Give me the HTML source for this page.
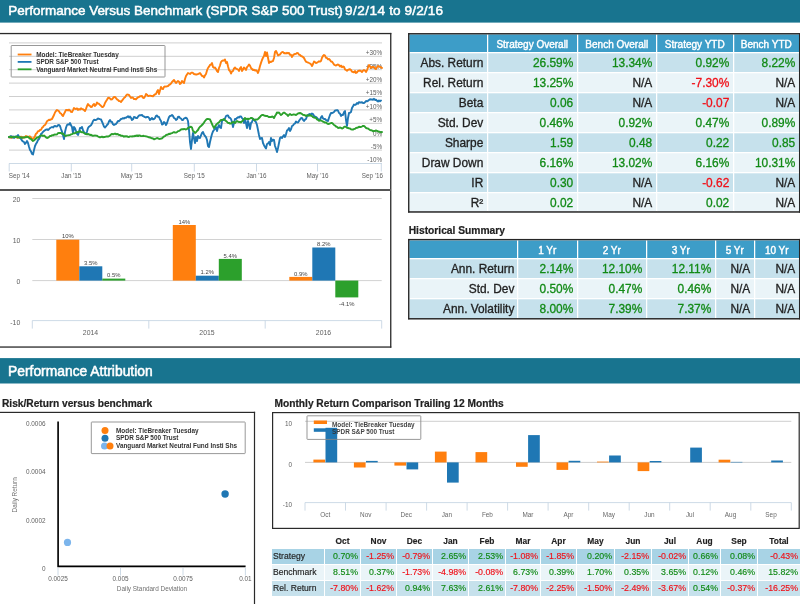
<!DOCTYPE html>
<html><head><meta charset="utf-8"><title>Performance Versus Benchmark</title>
<style>
html,body{margin:0;padding:0;background:#fff;}
body{width:800px;height:604px;overflow:hidden;position:relative;font-family:"Liberation Sans", sans-serif;color:#222;}
.bar{position:absolute;color:#fff;font-size:13.6px;white-space:nowrap;z-index:2;-webkit-text-stroke:0.5px #fff;}
.sub{z-index:2;position:absolute;font-weight:bold;font-size:10.2px;white-space:nowrap;color:#222;-webkit-text-stroke:0.2px;}
#page{position:absolute;left:0;top:0;width:800px;height:604px;overflow:hidden;will-change:transform;}
svg{position:absolute;left:0;top:0;}
svg text{font-family:"Liberation Sans", sans-serif;}
table{position:absolute;border-collapse:collapse;table-layout:fixed;}
td,th{padding:0;white-space:nowrap;overflow:hidden;box-sizing:border-box;}
.t1{font-size:11.9px;-webkit-text-stroke:0.3px;}
.t1 th{background:#3d9dc8;color:#fff;font-weight:normal;font-size:10px;-webkit-text-stroke:0.4px #fff;text-align:center;border:1px solid #fff;border-top:0;padding-top:3px;}
.t1 td{text-align:right;padding-right:3.5px;padding-top:2px;border:1px solid #fff;}
.t1 td:first-child,.t1 th:first-child{border-left:0;}
.t1 tr:last-child td{border-bottom:0;}
.t1 tr.a td{background:#c6e1ec;}
.t1 tr.b td{background:#eaf4f8;}
.g{color:#128a16;}
.r{color:#f01018;}
.frame{position:absolute;border:1px solid #555;box-sizing:border-box;overflow:hidden;}
#ov{z-index:5;pointer-events:none;}
.t3{font-size:8.8px;-webkit-text-stroke:0.15px;}
.t3 th{font-weight:bold;font-size:8.4px;text-align:center;color:#222;padding-top:1px;}
.t3 td{text-align:right;padding-right:2px;border:1px solid #fff;}
.t3 td.l{text-align:left;padding-left:1px;padding-right:0;font-size:8.6px;}
</style></head>
<body><div id="page">
<div class="bar" style="top:3.1px;left:8.3px;font-size:13.47px;">Performance Versus Benchmark (SPDR S&amp;P 500 Trust) <span style="position:absolute;left:336.6px;top:0;font-size:13.6px;letter-spacing:0.5px;">9/2/14</span><span style="position:absolute;left:381px;top:0;font-size:13.6px;">to</span><span style="position:absolute;left:396.2px;top:0;font-size:13.6px;letter-spacing:0.16px;">9/2/16</span></div>
<div class="bar" style="top:363.2px;left:8px;font-size:13.85px;">Performance Attribution</div>
<div class="sub" style="left:2px;top:397px;transform:translateY(0.6px);">Risk/Return versus benchmark</div>
<div class="sub" style="left:274.5px;top:397px;transform:translateY(0.6px);">Monthly Return Comparison Trailing 12 Months</div>
<div class="sub" style="left:408.7px;top:225px;font-size:10.25px;transform:translateY(0.4px);">Historical Summary</div>
<svg width="800" height="604" viewBox="0 0 800 604">
<rect x="0" y="0" width="800" height="22.6" fill="#18748f"/>
<rect x="0" y="358.1" width="800" height="25.4" fill="#18748f"/>
<g fill="#2a2a2a">
<rect x="0" y="32.9" width="391.3" height="1.3"/>
<rect x="390.1" y="32.9" width="1.3" height="314.8"/>
<rect x="0" y="346.4" width="391.3" height="1.3"/>
<rect x="0" y="189" width="391" height="2" fill="#555"/>
</g>
<g stroke="#cfcfcf" stroke-width="1">
<line x1="9" x2="382" y1="42.9" y2="42.9"/>
<line x1="9" x2="382" y1="56.3" y2="56.3"/>
<line x1="9" x2="382" y1="69.7" y2="69.7"/>
<line x1="9" x2="382" y1="83.1" y2="83.1"/>
<line x1="9" x2="382" y1="96.5" y2="96.5"/>
<line x1="9" x2="382" y1="109.9" y2="109.9"/>
<line x1="9" x2="382" y1="123.3" y2="123.3"/>
<line x1="9" x2="382" y1="136.7" y2="136.7"/>
<line x1="9" x2="382" y1="150.1" y2="150.1"/>
</g>
<g stroke="#c0d0e0" stroke-width="0.8" fill="none">
<line x1="9" x2="382" y1="163.5" y2="163.5"/>
<line x1="9.2" x2="9.2" y1="163.5" y2="171.5"/>
<line x1="71.3" x2="71.3" y1="163.5" y2="171.5"/>
<line x1="131.7" x2="131.7" y1="163.5" y2="171.5"/>
<line x1="194.3" x2="194.3" y1="163.5" y2="171.5"/>
<line x1="256.5" x2="256.5" y1="163.5" y2="171.5"/>
<line x1="317.5" x2="317.5" y1="163.5" y2="171.5"/>
<line x1="381.3" x2="381.3" y1="163.5" y2="171.5"/>
</g>
<g font-size="6.3" fill="#606060">
<text x="8.7" y="178">Sep '14</text>
<text x="71.3" y="178" text-anchor="middle">Jan '15</text>
<text x="131.7" y="178" text-anchor="middle">May '15</text>
<text x="194.3" y="178" text-anchor="middle">Sep '15</text>
<text x="256.5" y="178" text-anchor="middle">Jan '16</text>
<text x="317.5" y="178" text-anchor="middle">May '16</text>
<text x="383" y="178" text-anchor="end">Sep '16</text>
</g>
<g font-size="6.3" fill="#606060" text-anchor="end">
<text x="382" y="55.1">+30%</text>
<text x="382" y="68.5">+25%</text>
<text x="382" y="81.9">+20%</text>
<text x="382" y="95.3">+15%</text>
<text x="382" y="108.7">+10%</text>
<text x="382" y="122.1">+5%</text>
<text x="382" y="135.5">0%</text>
<text x="382" y="148.9">-5%</text>
<text x="382" y="162.3">-10%</text>
</g>
<path d="M9.0 137.5 L10.0 136.7 L11.0 137.9 L12.0 137.7 L13.0 136.7 L14.0 137.0 L15.0 137.1 L16.0 137.1 L17.0 137.5 L18.0 137.9 L19.0 136.7 L20.0 137.5 L21.0 136.6 L22.0 137.9 L23.0 137.1 L24.0 137.6 L25.0 137.0 L26.0 136.0 L27.0 136.7 L28.0 137.0 L29.0 136.5 L30.0 136.5 L31.0 137.5 L32.0 138.8 L33.0 138.5 L34.0 138.0 L35.0 136.0 L36.0 133.7 L37.0 133.0 L38.0 131.1 L39.0 131.1 L40.0 130.0 L41.0 129.8 L42.0 127.8 L43.0 127.0 L44.0 125.5 L45.0 125.0 L46.0 123.4 L47.0 121.2 L48.0 120.5 L49.0 119.7 L50.0 120.0 L51.0 119.4 L52.0 119.0 L53.0 117.0 L54.0 115.0 L55.0 112.5 L56.0 111.0 L57.0 110.0 L58.0 110.5 L59.0 111.3 L60.0 113.0 L61.0 113.5 L62.0 115.0 L63.0 116.0 L64.0 113.9 L65.0 112.0 L66.0 110.0 L67.0 109.9 L68.0 110.5 L69.0 109.6 L70.0 110.5 L71.0 111.9 L72.0 112.0 L73.0 110.1 L74.0 108.0 L75.0 108.8 L76.0 109.0 L77.0 108.4 L78.0 109.9 L79.0 109.0 L80.0 109.6 L81.0 108.3 L82.0 109.0 L83.0 109.2 L84.0 110.0 L85.0 111.0 L86.0 108.9 L87.0 106.0 L88.0 104.0 L89.0 105.4 L90.0 106.0 L91.0 107.0 L92.0 106.8 L93.0 104.9 L94.0 104.0 L95.0 106.0 L96.0 104.8 L97.0 102.5 L98.0 103.6 L99.0 103.8 L100.0 105.0 L101.0 105.8 L102.0 107.0 L103.0 107.0 L104.0 105.6 L105.0 103.0 L106.0 101.3 L107.0 99.8 L108.0 98.0 L109.0 97.7 L110.0 98.5 L111.0 99.5 L112.0 99.4 L113.0 98.1 L114.0 97.0 L115.0 97.0 L116.0 98.1 L117.0 99.4 L118.0 100.0 L119.0 101.0 L120.0 101.1 L121.0 102.0 L122.0 100.6 L123.0 99.3 L124.0 98.0 L125.0 97.3 L126.0 95.7 L127.0 94.5 L128.0 94.6 L129.0 95.0 L130.0 96.5 L131.0 98.0 L132.0 97.4 L133.0 97.7 L134.0 99.1 L135.0 99.0 L136.0 99.4 L137.0 98.2 L138.0 97.3 L139.0 97.0 L140.0 96.1 L141.0 96.3 L142.0 96.0 L143.0 97.9 L144.0 98.0 L145.0 96.5 L146.0 94.0 L147.0 94.7 L148.0 96.0 L149.0 96.0 L150.0 95.5 L151.0 96.0 L152.0 96.0 L153.0 96.3 L154.0 95.1 L155.0 94.4 L156.0 94.0 L157.0 91.6 L158.0 90.0 L159.0 94.0 L160.0 90.6 L161.0 87.0 L162.0 88.8 L163.0 89.0 L164.0 86.9 L165.0 86.5 L166.0 86.6 L167.0 86.3 L168.0 86.1 L169.0 85.0 L170.0 84.4 L171.0 83.6 L172.0 82.0 L173.0 81.0 L174.0 80.0 L175.0 81.6 L176.0 83.0 L177.0 81.9 L178.0 81.0 L179.0 81.7 L180.0 84.0 L181.0 83.2 L182.0 81.0 L183.0 82.1 L184.0 83.0 L185.0 79.0 L186.0 76.0 L187.0 74.5 L188.0 73.0 L189.0 73.5 L190.0 74.0 L191.0 73.0 L192.0 72.5 L193.0 73.0 L194.0 74.0 L195.0 74.3 L196.0 74.5 L197.0 74.5 L198.0 74.0 L199.0 73.7 L200.0 73.0 L201.0 74.4 L202.0 76.0 L203.0 75.9 L204.0 77.5 L205.0 75.3 L206.0 74.0 L207.0 70.4 L208.0 68.0 L209.0 66.7 L210.0 65.0 L211.0 64.6 L212.0 63.0 L213.0 67.0 L214.0 67.8 L215.0 67.5 L216.0 69.0 L217.0 71.0 L218.0 72.0 L219.0 68.0 L220.0 65.6 L221.0 62.0 L222.0 60.8 L223.0 60.5 L224.0 60.6 L225.0 59.5 L226.0 63.0 L227.0 62.0 L228.0 66.3 L229.0 70.0 L230.0 71.0 L231.0 73.5 L232.0 71.4 L233.0 71.0 L234.0 68.4 L235.0 67.5 L236.0 68.7 L237.0 69.0 L238.0 69.5 L239.0 71.0 L240.0 68.3 L241.0 67.0 L242.0 71.0 L243.0 69.5 L244.0 67.5 L245.0 68.5 L246.0 70.0 L247.0 67.2 L248.0 66.0 L249.0 64.5 L250.0 65.6 L251.0 68.0 L252.0 69.0 L253.0 70.0 L254.0 69.7 L255.0 70.5 L256.0 70.3 L257.0 71.0 L258.0 73.0 L259.0 69.9 L260.0 66.0 L261.0 62.9 L262.0 60.0 L263.0 57.7 L264.0 56.0 L265.0 52.0 L266.0 56.0 L267.0 52.5 L268.0 57.7 L269.0 63.0 L270.0 61.6 L271.0 62.0 L272.0 61.3 L273.0 61.0 L274.0 58.0 L275.0 52.0 L276.0 51.0 L277.0 53.0 L278.0 55.5 L279.0 54.9 L280.0 54.5 L281.0 53.1 L282.0 52.1 L283.0 52.0 L284.0 53.2 L285.0 53.0 L286.0 53.5 L287.0 52.8 L288.0 53.4 L289.0 53.0 L290.0 54.9 L291.0 54.8 L292.0 57.0 L293.0 55.1 L294.0 54.4 L295.0 54.0 L296.0 53.9 L297.0 53.0 L298.0 53.1 L299.0 54.7 L300.0 55.0 L301.0 56.0 L302.0 56.4 L303.0 57.0 L304.0 58.0 L305.0 60.0 L306.0 61.7 L307.0 62.2 L308.0 62.5 L309.0 63.0 L310.0 63.5 L311.0 64.3 L312.0 66.0 L313.0 64.0 L314.0 61.5 L315.0 62.1 L316.0 63.0 L317.0 62.6 L318.0 62.0 L319.0 61.3 L320.0 61.6 L321.0 61.0 L322.0 57.7 L323.0 56.0 L324.0 55.0 L325.0 55.6 L326.0 57.8 L327.0 58.0 L328.0 59.3 L329.0 59.0 L330.0 60.0 L331.0 61.6 L332.0 61.7 L333.0 63.0 L334.0 64.6 L335.0 65.1 L336.0 65.5 L337.0 64.8 L338.0 64.5 L339.0 65.1 L340.0 66.5 L341.0 65.6 L342.0 67.2 L343.0 66.5 L344.0 66.8 L345.0 69.4 L346.0 70.0 L347.0 70.7 L348.0 69.8 L349.0 69.5 L350.0 69.2 L351.0 70.0 L352.0 71.7 L353.0 72.0 L354.0 72.4 L355.0 71.0 L356.0 73.0 L357.0 72.4 L358.0 71.0 L359.0 70.8 L360.0 70.5 L361.0 71.0 L362.0 72.0 L363.0 70.7 L364.0 70.0 L365.0 70.5 L366.0 72.0 L367.0 70.1 L368.0 67.5 L369.0 65.0 L370.0 66.4 L371.0 68.0 L372.0 66.9 L373.0 67.0 L374.0 67.0 L375.0 68.6 L376.0 69.0 L377.0 67.1 L378.0 66.0 L379.0 66.5 L380.0 67.0 L381.0 67.2 L382.0 68.0" fill="none" stroke="#ff7f0e" stroke-width="1.9" stroke-linejoin="round" stroke-linecap="round"/>
<path d="M9.0 137.0 L10.0 137.4 L11.0 136.0 L12.0 137.6 L13.0 136.4 L14.0 138.0 L15.0 136.4 L16.0 137.2 L17.0 136.2 L18.0 135.0 L19.0 136.8 L20.0 138.0 L21.0 138.9 L22.0 140.5 L23.0 141.5 L24.0 142.0 L25.0 144.0 L26.0 142.7 L27.0 141.0 L28.0 143.0 L29.0 146.7 L30.0 150.0 L31.0 151.3 L32.0 154.0 L33.0 154.5 L34.0 150.1 L35.0 146.0 L36.0 143.8 L37.0 142.4 L38.0 140.0 L39.0 139.0 L40.0 136.9 L41.0 134.0 L42.0 133.1 L43.0 131.9 L44.0 131.0 L45.0 130.3 L46.0 129.6 L47.0 129.3 L48.0 130.0 L49.0 129.2 L50.0 128.1 L51.0 127.5 L52.0 127.0 L53.0 127.5 L54.0 126.4 L55.0 126.0 L56.0 126.4 L57.0 126.5 L58.0 125.2 L59.0 125.0 L60.0 126.0 L61.0 129.0 L62.0 131.7 L63.0 135.0 L64.0 139.0 L65.0 132.0 L66.0 127.8 L67.0 125.0 L68.0 124.4 L69.0 124.7 L70.0 123.0 L71.0 125.3 L72.0 127.0 L73.0 133.0 L74.0 127.0 L75.0 128.4 L76.0 131.0 L77.0 133.8 L78.0 135.0 L79.0 132.1 L80.0 128.0 L81.0 128.0 L82.0 127.0 L83.0 130.3 L84.0 132.0 L85.0 133.5 L86.0 134.0 L87.0 131.6 L88.0 128.0 L89.0 126.7 L90.0 126.0 L91.0 125.3 L92.0 123.6 L93.0 121.0 L94.0 119.8 L95.0 120.0 L96.0 120.0 L97.0 119.4 L98.0 118.5 L99.0 118.8 L100.0 119.2 L101.0 119.5 L102.0 121.7 L103.0 124.0 L104.0 126.6 L105.0 127.5 L106.0 126.3 L107.0 125.0 L108.0 124.0 L109.0 121.4 L110.0 120.0 L111.0 121.8 L112.0 122.0 L113.0 124.3 L114.0 125.0 L115.0 124.4 L116.0 124.0 L117.0 122.6 L118.0 121.0 L119.0 121.2 L120.0 120.1 L121.0 119.0 L122.0 118.8 L123.0 118.1 L124.0 118.5 L125.0 117.6 L126.0 117.9 L127.0 117.0 L128.0 116.2 L129.0 117.5 L130.0 116.5 L131.0 117.8 L132.0 120.0 L133.0 119.3 L134.0 117.0 L135.0 117.1 L136.0 118.0 L137.0 118.1 L138.0 116.7 L139.0 115.5 L140.0 115.3 L141.0 115.2 L142.0 115.0 L143.0 116.1 L144.0 116.5 L145.0 117.2 L146.0 117.5 L147.0 116.9 L148.0 117.0 L149.0 117.9 L150.0 120.0 L151.0 119.0 L152.0 118.0 L153.0 119.4 L154.0 119.0 L155.0 118.1 L156.0 115.8 L157.0 115.5 L158.0 116.9 L159.0 117.0 L160.0 119.5 L161.0 121.0 L162.0 124.5 L163.0 124.1 L164.0 122.0 L165.0 122.9 L166.0 125.0 L167.0 123.0 L168.0 120.0 L169.0 117.1 L170.0 116.0 L171.0 115.8 L172.0 115.0 L173.0 116.0 L174.0 118.0 L175.0 118.5 L176.0 120.0 L177.0 119.3 L178.0 117.0 L179.0 116.7 L180.0 118.0 L181.0 118.5 L182.0 120.0 L183.0 120.0 L184.0 118.5 L185.0 118.0 L186.0 117.7 L187.0 118.5 L188.0 121.0 L189.0 130.0 L190.0 142.0 L191.0 149.0 L192.0 140.0 L193.0 133.0 L194.0 138.0 L195.0 143.0 L196.0 137.0 L197.0 141.0 L198.0 136.0 L199.0 137.8 L200.0 138.0 L201.0 135.3 L202.0 133.0 L203.0 132.0 L204.0 134.4 L205.0 136.0 L206.0 137.1 L207.0 140.0 L208.0 146.0 L209.0 147.0 L210.0 142.0 L211.0 137.7 L212.0 134.0 L213.0 131.3 L214.0 130.0 L215.0 128.8 L216.0 127.0 L217.0 131.0 L218.0 127.2 L219.0 125.0 L220.0 127.4 L221.0 128.0 L222.0 121.0 L223.0 119.6 L224.0 120.0 L225.0 118.5 L226.0 116.0 L227.0 115.5 L228.0 115.5 L229.0 117.5 L230.0 117.8 L231.0 119.0 L232.0 122.0 L233.0 127.0 L234.0 123.0 L235.0 119.0 L236.0 119.1 L237.0 118.0 L238.0 117.1 L239.0 117.5 L240.0 116.4 L241.0 116.5 L242.0 118.1 L243.0 119.0 L244.0 123.0 L245.0 119.0 L246.0 123.3 L247.0 128.0 L248.0 121.0 L249.0 124.1 L250.0 129.0 L251.0 123.0 L252.0 122.0 L253.0 119.0 L254.0 119.3 L255.0 121.0 L256.0 122.1 L257.0 125.0 L258.0 130.0 L259.0 135.0 L260.0 139.0 L261.0 138.2 L262.0 138.0 L263.0 143.0 L264.0 145.2 L265.0 147.0 L266.0 148.5 L267.0 144.0 L268.0 143.5 L269.0 142.0 L270.0 145.0 L271.0 138.0 L272.0 141.0 L273.0 139.7 L274.0 140.0 L275.0 146.0 L276.0 148.7 L277.0 152.0 L278.0 148.0 L279.0 143.0 L280.0 138.0 L281.0 137.1 L282.0 138.0 L283.0 136.4 L284.0 135.0 L285.0 137.0 L286.0 134.3 L287.0 130.5 L288.0 129.7 L289.0 128.0 L290.0 131.0 L291.0 129.3 L292.0 126.0 L293.0 125.5 L294.0 124.0 L295.0 123.5 L296.0 121.5 L297.0 122.4 L298.0 122.5 L299.0 120.9 L300.0 119.5 L301.0 118.2 L302.0 118.0 L303.0 119.8 L304.0 121.0 L305.0 119.6 L306.0 119.0 L307.0 116.2 L308.0 115.0 L309.0 114.4 L310.0 114.0 L311.0 114.5 L312.0 113.5 L313.0 114.0 L314.0 116.0 L315.0 116.7 L316.0 117.0 L317.0 117.8 L318.0 119.0 L319.0 119.5 L320.0 120.0 L321.0 117.3 L322.0 116.0 L323.0 118.4 L324.0 119.0 L325.0 119.0 L326.0 120.0 L327.0 120.7 L328.0 121.0 L329.0 117.8 L330.0 115.0 L331.0 113.0 L332.0 113.0 L333.0 112.6 L334.0 112.0 L335.0 110.5 L336.0 110.5 L337.0 110.0 L338.0 110.6 L339.0 113.0 L340.0 113.6 L341.0 116.0 L342.0 114.8 L343.0 115.0 L344.0 112.2 L345.0 111.0 L346.0 120.0 L347.0 126.0 L348.0 118.0 L349.0 113.0 L350.0 112.8 L351.0 112.0 L352.0 108.0 L353.0 106.3 L354.0 104.5 L355.0 105.0 L356.0 104.4 L357.0 103.0 L358.0 103.8 L359.0 102.1 L360.0 102.5 L361.0 102.5 L362.0 102.3 L363.0 103.1 L364.0 103.0 L365.0 102.2 L366.0 101.0 L367.0 101.3 L368.0 100.8 L369.0 100.0 L370.0 99.3 L371.0 99.5 L372.0 99.5 L373.0 99.7 L374.0 98.8 L375.0 100.0 L376.0 99.6 L377.0 100.8 L378.0 101.5 L379.0 100.4 L380.0 101.3 L381.0 100.5" fill="none" stroke="#1f77b4" stroke-width="1.9" stroke-linejoin="round" stroke-linecap="round"/>
<path d="M9.0 137.0 L10.0 136.7 L11.0 137.0 L12.0 136.9 L13.0 137.1 L14.0 137.1 L15.0 137.0 L16.0 136.7 L17.0 136.7 L18.0 137.6 L19.0 137.2 L20.0 137.5 L21.0 137.2 L22.0 137.9 L23.0 137.3 L24.0 137.6 L25.0 137.2 L26.0 137.3 L27.0 136.7 L28.0 137.0 L29.0 137.8 L30.0 138.7 L31.0 139.0 L32.0 140.0 L33.0 141.0 L34.0 140.4 L35.0 139.5 L36.0 138.5 L37.0 137.4 L38.0 137.5 L39.0 136.7 L40.0 136.0 L41.0 135.7 L42.0 135.3 L43.0 136.0 L44.0 135.5 L45.0 136.3 L46.0 137.4 L47.0 138.0 L48.0 137.7 L49.0 136.9 L50.0 136.0 L51.0 136.1 L52.0 135.3 L53.0 135.4 L54.0 134.7 L55.0 134.5 L56.0 134.6 L57.0 134.3 L58.0 133.2 L59.0 132.9 L60.0 133.0 L61.0 132.9 L62.0 133.8 L63.0 133.5 L64.0 134.7 L65.0 136.0 L66.0 135.9 L67.0 135.4 L68.0 135.4 L69.0 135.1 L70.0 135.0 L71.0 134.4 L72.0 134.1 L73.0 133.5 L74.0 133.2 L75.0 133.2 L76.0 132.6 L77.0 132.0 L78.0 132.1 L79.0 131.7 L80.0 131.0 L81.0 132.0 L82.0 132.2 L83.0 132.2 L84.0 133.0 L85.0 133.6 L86.0 134.0 L87.0 134.2 L88.0 134.0 L89.0 134.4 L90.0 135.0 L91.0 134.8 L92.0 135.5 L93.0 135.8 L94.0 135.6 L95.0 135.5 L96.0 135.6 L97.0 135.7 L98.0 136.5 L99.0 137.0 L100.0 137.3 L101.0 137.0 L102.0 136.6 L103.0 137.3 L104.0 136.9 L105.0 137.0 L106.0 136.5 L107.0 136.5 L108.0 136.5 L109.0 136.1 L110.0 135.5 L111.0 134.5 L112.0 133.9 L113.0 134.3 L114.0 134.0 L115.0 133.5 L116.0 134.2 L117.0 134.0 L118.0 134.2 L119.0 135.0 L120.0 135.0 L121.0 135.8 L122.0 135.7 L123.0 136.0 L124.0 136.7 L125.0 136.1 L126.0 136.5 L127.0 136.2 L128.0 136.9 L129.0 137.0 L130.0 136.4 L131.0 136.4 L132.0 136.5 L133.0 136.3 L134.0 136.4 L135.0 135.8 L136.0 136.0 L137.0 135.4 L138.0 136.1 L139.0 135.4 L140.0 135.5 L141.0 136.1 L142.0 136.1 L143.0 135.8 L144.0 136.0 L145.0 136.1 L146.0 136.4 L147.0 136.5 L148.0 137.0 L149.0 137.3 L150.0 137.5 L151.0 137.9 L152.0 138.3 L153.0 138.5 L154.0 139.2 L155.0 139.0 L156.0 138.5 L157.0 138.0 L158.0 138.3 L159.0 138.9 L160.0 139.0 L161.0 138.5 L162.0 138.5 L163.0 137.3 L164.0 136.5 L165.0 136.2 L166.0 135.0 L167.0 134.8 L168.0 134.5 L169.0 133.8 L170.0 134.0 L171.0 133.4 L172.0 133.1 L173.0 132.5 L174.0 132.0 L175.0 132.6 L176.0 132.5 L177.0 132.1 L178.0 131.1 L179.0 131.0 L180.0 130.4 L181.0 129.5 L182.0 129.3 L183.0 129.3 L184.0 129.0 L185.0 129.1 L186.0 129.5 L187.0 129.0 L188.0 128.0 L189.0 127.7 L190.0 127.0 L191.0 126.8 L192.0 127.5 L193.0 131.0 L194.0 131.6 L195.0 133.0 L196.0 132.2 L197.0 131.0 L198.0 130.0 L199.0 128.0 L200.0 126.8 L201.0 126.0 L202.0 125.0 L203.0 124.0 L204.0 122.6 L205.0 121.0 L206.0 119.8 L207.0 119.0 L208.0 119.0 L209.0 119.1 L210.0 119.5 L211.0 121.6 L212.0 124.0 L213.0 126.1 L214.0 128.0 L215.0 126.3 L216.0 125.0 L217.0 123.9 L218.0 123.0 L219.0 122.3 L220.0 121.0 L221.0 120.0 L222.0 120.0 L223.0 119.6 L224.0 119.0 L225.0 120.2 L226.0 121.0 L227.0 121.8 L228.0 123.0 L229.0 122.9 L230.0 123.6 L231.0 123.5 L232.0 122.5 L233.0 122.0 L234.0 122.2 L235.0 123.0 L236.0 121.9 L237.0 121.0 L238.0 121.7 L239.0 122.0 L240.0 121.9 L241.0 122.5 L242.0 121.3 L243.0 120.5 L244.0 119.1 L245.0 118.0 L246.0 118.8 L247.0 119.0 L248.0 118.8 L249.0 119.0 L250.0 118.5 L251.0 117.9 L252.0 118.0 L253.0 118.8 L254.0 120.0 L255.0 119.9 L256.0 119.5 L257.0 119.6 L258.0 119.0 L259.0 118.0 L260.0 117.0 L261.0 115.7 L262.0 115.0 L263.0 114.9 L264.0 115.5 L265.0 115.8 L266.0 116.0 L267.0 115.9 L268.0 116.5 L269.0 117.1 L270.0 117.0 L271.0 117.1 L272.0 116.5 L273.0 116.9 L274.0 118.0 L275.0 116.0 L276.0 114.5 L277.0 112.5 L278.0 112.8 L279.0 112.5 L280.0 113.9 L281.0 115.0 L282.0 114.3 L283.0 113.0 L284.0 112.5 L285.0 113.1 L286.0 114.0 L287.0 114.6 L288.0 116.0 L289.0 114.8 L290.0 114.0 L291.0 114.8 L292.0 115.0 L293.0 114.5 L294.0 114.5 L295.0 114.6 L296.0 115.0 L297.0 114.2 L298.0 113.5 L299.0 113.2 L300.0 113.0 L301.0 113.4 L302.0 114.0 L303.0 114.9 L304.0 115.0 L305.0 115.2 L306.0 116.0 L307.0 115.3 L308.0 115.5 L309.0 115.7 L310.0 115.0 L311.0 115.9 L312.0 116.0 L313.0 117.2 L314.0 117.5 L315.0 117.7 L316.0 118.0 L317.0 119.5 L318.0 120.0 L319.0 120.7 L320.0 120.5 L321.0 120.5 L322.0 121.0 L323.0 121.7 L324.0 122.0 L325.0 122.6 L326.0 122.5 L327.0 123.4 L328.0 124.0 L329.0 123.8 L330.0 123.5 L331.0 123.0 L332.0 123.0 L333.0 123.8 L334.0 125.0 L335.0 125.5 L336.0 126.5 L337.0 126.8 L338.0 128.0 L339.0 127.8 L340.0 127.5 L341.0 127.8 L342.0 128.5 L343.0 128.1 L344.0 127.0 L345.0 126.5 L346.0 127.0 L347.0 127.9 L348.0 128.0 L349.0 128.4 L350.0 128.5 L351.0 129.4 L352.0 129.5 L353.0 129.6 L354.0 129.0 L355.0 128.9 L356.0 128.0 L357.0 127.8 L358.0 127.5 L359.0 126.8 L360.0 127.0 L361.0 127.0 L362.0 126.5 L363.0 125.9 L364.0 126.0 L365.0 126.8 L366.0 128.0 L367.0 128.4 L368.0 128.5 L369.0 129.3 L370.0 130.0 L371.0 130.2 L372.0 130.5 L373.0 131.2 L374.0 131.0 L375.0 130.9 L376.0 130.5 L377.0 130.8 L378.0 131.5 L379.0 131.5 L380.0 132.0 L381.0 132.4 L382.0 132.0" fill="none" stroke="#2ca02c" stroke-width="1.9" stroke-linejoin="round" stroke-linecap="round"/>
<rect x="11.2" y="45.5" width="153.8" height="31.5" rx="0.6" fill="none" stroke="#858585" stroke-width="0.85"/>
<line x1="17.7" x2="31.5" y1="54.5" y2="54.5" stroke="#ff7f0e" stroke-width="1.8"/>
<text x="36.2" y="56.8" font-size="6.4" font-weight="bold" fill="#333">Model: TieBreaker Tuesday</text>
<line x1="17.7" x2="31.5" y1="61.9" y2="61.9" stroke="#1f77b4" stroke-width="1.8"/>
<text x="36.2" y="64.2" font-size="6.4" font-weight="bold" fill="#333">SPDR S&amp;P 500 Trust</text>
<line x1="17.7" x2="31.5" y1="69.3" y2="69.3" stroke="#2ca02c" stroke-width="1.8"/>
<text x="36.2" y="71.6" font-size="6.4" font-weight="bold" fill="#333">Vanguard Market Neutral Fund Insti Shs</text>
<g stroke="#b4b4b4" stroke-width="0.6">
<line x1="32.3" x2="381.7" y1="198.5" y2="198.5"/>
<line x1="32.3" x2="381.7" y1="239.5" y2="239.5"/>
<line x1="32.3" x2="381.7" y1="280.6" y2="280.6"/>
</g>
<g stroke="#c0d0e0" stroke-width="0.8">
<line x1="32.3" x2="381.7" y1="320.6" y2="320.6"/>
<line x1="32.3" x2="32.3" y1="320.6" y2="328.6"/>
<line x1="148.8" x2="148.8" y1="320.6" y2="328.6"/>
<line x1="265.2" x2="265.2" y1="320.6" y2="328.6"/>
<line x1="381.7" x2="381.7" y1="320.6" y2="328.6"/>
</g>
<g font-size="6.9" fill="#606060" text-anchor="end">
<text x="20.3" y="202.2">20</text>
<text x="20.3" y="243.2">10</text>
<text x="20.3" y="284.3">0</text>
<text x="20.3" y="325.0">-10</text>
</g>
<text x="90.5" y="335" font-size="6.9" fill="#606060" text-anchor="middle">2014</text>
<rect x="56.3" y="239.7" width="23.0" height="40.9" fill="#ff7f0e"/>
<text x="67.8" y="238.3" font-size="5.9" fill="#444" text-anchor="middle">10%</text>
<rect x="79.3" y="266.3" width="23.0" height="14.3" fill="#1f77b4"/>
<text x="90.8" y="264.9" font-size="5.9" fill="#444" text-anchor="middle">3.5%</text>
<rect x="102.3" y="278.6" width="23.0" height="2.0" fill="#2ca02c"/>
<text x="113.8" y="277.2" font-size="5.9" fill="#444" text-anchor="middle">0.5%</text>
<text x="207.0" y="335" font-size="6.9" fill="#606060" text-anchor="middle">2015</text>
<rect x="172.8" y="225.0" width="23.0" height="55.6" fill="#ff7f0e"/>
<text x="184.3" y="223.6" font-size="5.9" fill="#444" text-anchor="middle">14%</text>
<rect x="195.8" y="275.7" width="23.0" height="4.9" fill="#1f77b4"/>
<text x="207.3" y="274.3" font-size="5.9" fill="#444" text-anchor="middle">1.2%</text>
<rect x="218.8" y="258.9" width="23.0" height="21.7" fill="#2ca02c"/>
<text x="230.3" y="257.5" font-size="5.9" fill="#444" text-anchor="middle">5.4%</text>
<text x="323.5" y="335" font-size="6.9" fill="#606060" text-anchor="middle">2016</text>
<rect x="289.3" y="276.9" width="23.0" height="3.7" fill="#ff7f0e"/>
<text x="300.8" y="275.5" font-size="5.9" fill="#444" text-anchor="middle">0.9%</text>
<rect x="312.3" y="247.5" width="23.0" height="33.1" fill="#1f77b4"/>
<text x="323.8" y="246.1" font-size="5.9" fill="#444" text-anchor="middle">8.2%</text>
<rect x="335.3" y="280.6" width="23.0" height="16.8" fill="#2ca02c"/>
<text x="346.8" y="306.4" font-size="5.9" fill="#444" text-anchor="middle">-4.1%</text>
<g fill="#2a2a2a">
<rect x="0" y="411.8" width="255.1" height="1.2"/>
<rect x="253.9" y="411.8" width="1.2" height="200"/>
</g>
<path d="M58.1 421.5 V566.4 H245.6" fill="none" stroke="#000" stroke-width="1.65"/>
<g stroke="#c0d0e0" stroke-width="0.8">
<line x1="58" x2="58" y1="568" y2="575.5"/>
<line x1="120.5" x2="120.5" y1="568" y2="575.5"/>
<line x1="183" x2="183" y1="568" y2="575.5"/>
<line x1="245.4" x2="245.4" y1="568" y2="575.5"/>
</g>
<g font-size="6.4" fill="#606060" text-anchor="middle">
<text x="58" y="581.4">0.0025</text>
<text x="120.5" y="581.4">0.005</text>
<text x="183" y="581.4">0.0075</text>
<text x="245.4" y="581.4">0.01</text>
<text x="152" y="591.2" fill="#707070">Daily Standard Deviation</text>
<text transform="translate(16.6 494.8) rotate(-90)" fill="#707070">Daily Return</text>
</g>
<g font-size="6.4" fill="#606060" text-anchor="end">
<text x="45.5" y="425.8">0.0006</text>
<text x="45.5" y="474.1">0.0004</text>
<text x="45.5" y="522.6999999999999">0.0002</text>
<text x="45.5" y="570.9">0</text>
</g>
<circle cx="225.1" cy="494" r="3.7" fill="#1f77b4"/>
<circle cx="67.5" cy="542.4" r="3.6" fill="#7cb5ec"/>
<rect x="91.3" y="422" width="153.9" height="31.6" rx="0.6" fill="#fff" stroke="#858585" stroke-width="0.85"/>
<circle cx="105" cy="430.4" r="3.5" fill="#ff7f0e"/>
<text x="116" y="432.7" font-size="6.4" font-weight="bold" fill="#333">Model: TieBreaker Tuesday</text>
<circle cx="105" cy="438.15" r="3.5" fill="#1f77b4"/>
<text x="116" y="440.45" font-size="6.4" font-weight="bold" fill="#333">SPDR S&amp;P 500 Trust</text>
<circle cx="104.5" cy="445.9" r="3.5" fill="#7cb5ec"/>
<circle cx="110" cy="445.9" r="3.5" fill="#ff7f0e"/>
<text x="116" y="448.2" font-size="6.4" font-weight="bold" fill="#333">Vanguard Market Neutral Fund Insti Shs</text>
<rect x="272.6" y="412.6" width="526.6" height="115.8" fill="none" stroke="#2a2a2a" stroke-width="1.2"/>
<g stroke="#c2c2c2" stroke-width="0.8">
<line x1="305" x2="791.3" y1="421.3" y2="421.3"/>
<line x1="305" x2="791.3" y1="462.4" y2="462.4"/>
</g>
<g stroke="#c0d0e0" stroke-width="0.8">
<line x1="305" x2="791.3" y1="502.6" y2="502.6"/>
<line x1="305.0" x2="305.0" y1="502.6" y2="510.6"/>
<line x1="345.5" x2="345.5" y1="502.6" y2="510.6"/>
<line x1="386.1" x2="386.1" y1="502.6" y2="510.6"/>
<line x1="426.6" x2="426.6" y1="502.6" y2="510.6"/>
<line x1="467.1" x2="467.1" y1="502.6" y2="510.6"/>
<line x1="507.6" x2="507.6" y1="502.6" y2="510.6"/>
<line x1="548.1" x2="548.1" y1="502.6" y2="510.6"/>
<line x1="588.7" x2="588.7" y1="502.6" y2="510.6"/>
<line x1="629.2" x2="629.2" y1="502.6" y2="510.6"/>
<line x1="669.7" x2="669.7" y1="502.6" y2="510.6"/>
<line x1="710.2" x2="710.2" y1="502.6" y2="510.6"/>
<line x1="750.8" x2="750.8" y1="502.6" y2="510.6"/>
<line x1="791.3" x2="791.3" y1="502.6" y2="510.6"/>
</g>
<g font-size="6.4" fill="#606060" text-anchor="end">
<text x="292" y="425.9">10</text>
<text x="292" y="466.7">0</text>
<text x="292" y="506.6">-10</text>
</g>
<text x="325.3" y="516.5" font-size="6.4" fill="#686868" text-anchor="middle">Oct</text>
<rect x="313.4" y="459.6" width="11.7" height="2.8" fill="#ff7f0e"/>
<rect x="325.5" y="427.8" width="11.7" height="34.6" fill="#1f77b4"/>
<text x="365.8" y="516.5" font-size="6.4" fill="#686868" text-anchor="middle">Nov</text>
<rect x="353.9" y="462.4" width="11.7" height="5.1" fill="#ff7f0e"/>
<rect x="366.0" y="460.9" width="11.7" height="1.5" fill="#1f77b4"/>
<text x="406.3" y="516.5" font-size="6.4" fill="#686868" text-anchor="middle">Dec</text>
<rect x="394.4" y="462.4" width="11.7" height="3.2" fill="#ff7f0e"/>
<rect x="406.5" y="462.4" width="11.7" height="7.0" fill="#1f77b4"/>
<text x="446.8" y="516.5" font-size="6.4" fill="#686868" text-anchor="middle">Jan</text>
<rect x="434.9" y="451.6" width="11.7" height="10.8" fill="#ff7f0e"/>
<rect x="447.0" y="462.4" width="11.7" height="20.2" fill="#1f77b4"/>
<text x="487.4" y="516.5" font-size="6.4" fill="#686868" text-anchor="middle">Feb</text>
<rect x="475.5" y="452.1" width="11.7" height="10.3" fill="#ff7f0e"/>
<text x="527.9" y="516.5" font-size="6.4" fill="#686868" text-anchor="middle">Mar</text>
<rect x="516.0" y="462.4" width="11.7" height="4.4" fill="#ff7f0e"/>
<rect x="528.1" y="435.1" width="11.7" height="27.3" fill="#1f77b4"/>
<text x="568.4" y="516.5" font-size="6.4" fill="#686868" text-anchor="middle">Apr</text>
<rect x="556.5" y="462.4" width="11.7" height="7.5" fill="#ff7f0e"/>
<rect x="568.6" y="460.8" width="11.7" height="1.6" fill="#1f77b4"/>
<text x="608.9" y="516.5" font-size="6.4" fill="#686868" text-anchor="middle">May</text>
<rect x="597.0" y="461.6" width="11.7" height="0.8" fill="#ff7f0e"/>
<rect x="609.1" y="455.5" width="11.7" height="6.9" fill="#1f77b4"/>
<text x="649.5" y="516.5" font-size="6.4" fill="#686868" text-anchor="middle">Jun</text>
<rect x="637.6" y="462.4" width="11.7" height="8.7" fill="#ff7f0e"/>
<rect x="649.7" y="461.0" width="11.7" height="1.4" fill="#1f77b4"/>
<text x="690.0" y="516.5" font-size="6.4" fill="#686868" text-anchor="middle">Jul</text>
<rect x="690.2" y="447.6" width="11.7" height="14.8" fill="#1f77b4"/>
<text x="730.5" y="516.5" font-size="6.4" fill="#686868" text-anchor="middle">Aug</text>
<rect x="718.6" y="459.7" width="11.7" height="2.7" fill="#ff7f0e"/>
<rect x="730.7" y="461.9" width="11.7" height="0.5" fill="#1f77b4"/>
<text x="771.0" y="516.5" font-size="6.4" fill="#686868" text-anchor="middle">Sep</text>
<rect x="771.2" y="460.5" width="11.7" height="1.9" fill="#1f77b4"/>
<rect x="307" y="415.8" width="113.8" height="23.6" rx="0.6" fill="none" stroke="#858585" stroke-width="0.85"/>
<rect x="313.8" y="420.5" width="13.2" height="3.5" fill="#ff7f0e"/>
<text x="332" y="426.5" font-size="6.4" font-weight="bold" fill="#333" opacity="0.92">Model: TieBreaker Tuesday</text>
<rect x="313.8" y="428.3" width="13.2" height="3.5" fill="#1f77b4"/>
<text x="332" y="434.3" font-size="6.4" font-weight="bold" fill="#333" opacity="0.92">SPDR S&amp;P 500 Trust</text>
</svg>
<div class="frame" style="left:408px;top:33px;width:392px;height:179px;transform:translate(0.25px,0.3px);">
<table class="t1" style="left:0;top:0;width:390px;">
<colgroup><col style="width:78px"><col style="width:90px"><col style="width:79px"><col style="width:77px"><col style="width:66px"></colgroup>
<tr style="height:18px"><th></th><th>Strategy Overall</th><th>Bench Overall</th><th>Strategy YTD</th><th>Bench YTD</th></tr>
<tr class="a" style="height:20px"><td>Abs. Return</td><td class="g">26.59%</td><td class="g">13.34%</td><td class="g">0.92%</td><td class="g">8.22%</td></tr>
<tr class="b" style="height:20px"><td>Rel. Return</td><td class="g">13.25%</td><td>N/A</td><td class="r">-7.30%</td><td>N/A</td></tr>
<tr class="a" style="height:20px"><td>Beta</td><td class="g">0.06</td><td>N/A</td><td class="r">-0.07</td><td>N/A</td></tr>
<tr class="b" style="height:20px"><td>Std. Dev</td><td class="g">0.46%</td><td class="g">0.92%</td><td class="g">0.47%</td><td class="g">0.89%</td></tr>
<tr class="a" style="height:20px"><td>Sharpe</td><td class="g">1.59</td><td class="g">0.48</td><td class="g">0.22</td><td class="g">0.85</td></tr>
<tr class="b" style="height:20px"><td>Draw Down</td><td class="g">6.16%</td><td class="g">13.02%</td><td class="g">6.16%</td><td class="g">10.31%</td></tr>
<tr class="a" style="height:20px"><td>IR</td><td class="g">0.30</td><td>N/A</td><td class="r">-0.62</td><td>N/A</td></tr>
<tr class="b" style="height:20px"><td>R²</td><td class="g">0.02</td><td>N/A</td><td class="g">0.02</td><td>N/A</td></tr>
</table></div>
<div class="frame" style="left:408px;top:239px;width:392px;height:80px;transform:translate(0.25px,0.3px);">
<table class="t1" style="left:0;top:0;width:390px;">
<colgroup><col style="width:108px"><col style="width:60px"><col style="width:69px"><col style="width:69px"><col style="width:39px"><col style="width:45px"></colgroup>
<tr style="height:18px"><th></th><th>1 Yr</th><th>2 Yr</th><th>3 Yr</th><th>5 Yr</th><th>10 Yr</th></tr>
<tr class="a" style="height:20px"><td style="padding-right:2.4px">Ann. Return</td><td class="g">2.14%</td><td class="g">12.10%</td><td class="g">12.11%</td><td>N/A</td><td>N/A</td></tr>
<tr class="b" style="height:20px"><td style="padding-right:2.4px">Std. Dev</td><td class="g">0.50%</td><td class="g">0.47%</td><td class="g">0.46%</td><td>N/A</td><td>N/A</td></tr>
<tr class="a" style="height:20px"><td style="padding-right:2.4px">Ann. Volatility</td><td class="g">8.00%</td><td class="g">7.39%</td><td class="g">7.37%</td><td>N/A</td><td>N/A</td></tr>
</table></div>
<table class="t3" style="left:271px;top:533px;width:529px;">
<colgroup><col style="width:53px"><col style="width:36px"><col style="width:36px"><col style="width:36px"><col style="width:36px"><col style="width:37px"><col style="width:35px"><col style="width:36px"><col style="width:38px"><col style="width:37px"><col style="width:37px"><col style="width:32px"><col style="width:37px"><col style="width:43px"></colgroup>
<tr style="height:15px"><th></th><th>Oct</th><th>Nov</th><th>Dec</th><th>Jan</th><th>Feb</th><th>Mar</th><th>Apr</th><th>May</th><th>Jun</th><th>Jul</th><th>Aug</th><th>Sep</th><th>Total</th></tr>
<tr style="height:16px"><td class="l" style="background:#a8d3e5">Strategy</td><td class="g" style="background:#a8d3e5">0.70%</td><td class="r" style="background:#a8d3e5">-1.25%</td><td class="r" style="background:#a8d3e5">-0.79%</td><td class="g" style="background:#a8d3e5">2.65%</td><td class="g" style="background:#a8d3e5">2.53%</td><td class="r" style="background:#a8d3e5">-1.08%</td><td class="r" style="background:#a8d3e5">-1.85%</td><td class="g" style="background:#a8d3e5">0.20%</td><td class="r" style="background:#a8d3e5">-2.15%</td><td class="r" style="background:#a8d3e5">-0.02%</td><td class="g" style="background:#a8d3e5">0.66%</td><td class="g" style="background:#a8d3e5">0.08%</td><td class="r" style="background:#a8d3e5">-0.43%</td></tr>
<tr style="height:16px"><td class="l" style="background:#eaf4f8">Benchmark</td><td class="g" style="background:#eaf4f8">8.51%</td><td class="g" style="background:#eaf4f8">0.37%</td><td class="r" style="background:#eaf4f8">-1.73%</td><td class="r" style="background:#eaf4f8">-4.98%</td><td class="r" style="background:#eaf4f8">-0.08%</td><td class="g" style="background:#eaf4f8">6.73%</td><td class="g" style="background:#eaf4f8">0.39%</td><td class="g" style="background:#eaf4f8">1.70%</td><td class="g" style="background:#eaf4f8">0.35%</td><td class="g" style="background:#eaf4f8">3.65%</td><td class="g" style="background:#eaf4f8">0.12%</td><td class="g" style="background:#eaf4f8">0.46%</td><td class="g" style="background:#eaf4f8">15.82%</td></tr>
<tr style="height:16px"><td class="l" style="background:#c6e1ec">Rel. Return</td><td class="r" style="background:#c6e1ec">-7.80%</td><td class="r" style="background:#c6e1ec">-1.62%</td><td class="g" style="background:#c6e1ec">0.94%</td><td class="g" style="background:#c6e1ec">7.63%</td><td class="g" style="background:#c6e1ec">2.61%</td><td class="r" style="background:#c6e1ec">-7.80%</td><td class="r" style="background:#c6e1ec">-2.25%</td><td class="r" style="background:#c6e1ec">-1.50%</td><td class="r" style="background:#c6e1ec">-2.49%</td><td class="r" style="background:#c6e1ec">-3.67%</td><td class="g" style="background:#c6e1ec">0.54%</td><td class="r" style="background:#c6e1ec">-0.37%</td><td class="r" style="background:#c6e1ec">-16.25%</td></tr>
</table>
<svg id="ov" width="800" height="604" viewBox="0 0 800 604"><g fill="#262626"><rect x="408.12" y="33.12" width="392.10" height="1.25"/><rect x="408.12" y="211.38" width="392.10" height="1.25"/><rect x="408.12" y="33.12" width="1.25" height="179.50"/><rect x="798.98" y="33.12" width="1.25" height="179.50"/><rect x="408.12" y="238.93" width="392.10" height="1.25"/><rect x="408.12" y="318.12" width="392.10" height="1.25"/><rect x="408.12" y="238.93" width="1.25" height="80.45"/><rect x="798.98" y="238.93" width="1.25" height="80.45"/></g></svg>
</div></body></html>
